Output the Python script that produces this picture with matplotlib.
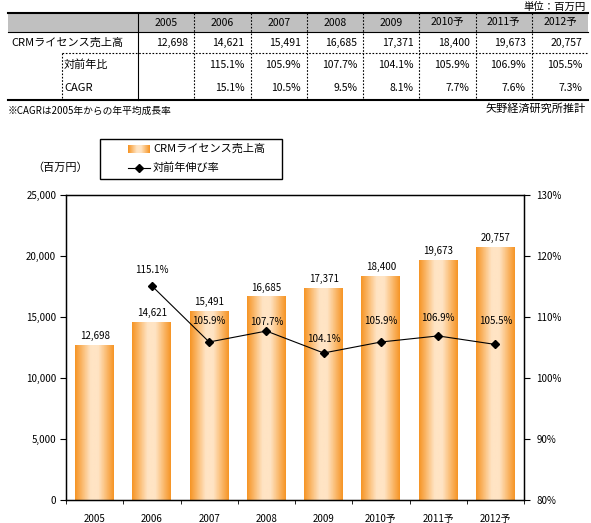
"""
CRM license sales chart: table on top, bar + growth-rate line below.
Saves out.png (591x523).
"""
import matplotlib
matplotlib.use('Agg')
import matplotlib.pyplot as plt
import numpy as np
from matplotlib.colors import LinearSegmentedColormap
from matplotlib.patches import Rectangle
from matplotlib.ticker import FuncFormatter, MultipleLocator

plt.rcParams['font.family'] = ['Noto Sans CJK JP', 'DejaVu Sans']

YEARS = ['2005', '2006', '2007', '2008', '2009', '2010予', '2011予', '2012予']
SALES = [12698, 14621, 15491, 16685, 17371, 18400, 19673, 20757]
YOY = [None, 115.1, 105.9, 107.7, 104.1, 105.9, 106.9, 105.5]
CAGR = [None, 15.1, 10.5, 9.5, 8.1, 7.7, 7.6, 7.3]

ROW_SALES = 'CRMライセンス売上高'
ROW_YOY = '対前年比'
ROW_CAGR = 'CAGR'
LEGEND_BAR = 'CRMライセンス売上高'
LEGEND_LINE = '対前年伸び率'
UNIT = '単位：百万円'
NOTE = '※CAGRは2005年からの年平均成長率'
SOURCE = '矢野経済研究所推計'
Y_UNIT = '（百万円）'

# label offsets above the markers (px), as placed in the original
PCT_OFFSETS = [0, 16, 21, 9, 14, 21, 18, 23]

W, H = 591, 523
EDGE = '#F69526'
CENTER = '#FFE4C4'
bar_cmap = LinearSegmentedColormap.from_list(
    'bar', [EDGE, '#FBBD75', CENTER, CENTER, '#FBBD75', EDGE])

fig = plt.figure(figsize=(W / 100, H / 100), dpi=100)


def px_box(x0, y0, x1, y1):
    return [x0 / W, 1 - y1 / H, (x1 - x0) / W, (y1 - y0) / H]


# ---- chart ----
ax = fig.add_axes(px_box(66, 195, 524, 500))
x = np.arange(len(YEARS))
bars = ax.bar(x, SALES, width=0.68, facecolor='none', edgecolor='none', zorder=2)
grad = np.linspace(0, 1, 64).reshape(1, -1)
for bar in bars:
    bx, bw, bh = bar.get_x(), bar.get_width(), bar.get_height()
    im = ax.imshow(grad, extent=(bx, bx + bw, 0, bh), aspect='auto',
                   cmap=bar_cmap, zorder=2, interpolation='bilinear')
    im.set_clip_path(bar)
    ax.text(bx + bw / 2, bh + 320, f'{bh:,.0f}', ha='center', va='bottom',
            fontsize=7)

ax.set_xlim(-0.5, len(YEARS) - 0.5)
ax.set_ylim(0, 25000)
ax.set_aspect('auto')
ax.yaxis.set_major_locator(MultipleLocator(5000))
ax.yaxis.set_major_formatter(FuncFormatter(lambda v, p: f'{v:,.0f}'))
ax.set_xticks(x)
ax.set_xticklabels(YEARS)
ax.set_xticks(np.arange(len(YEARS) + 1) - 0.5, minor=True)
ax.tick_params(axis='x', which='major', length=0, pad=10, labelsize=7)
ax.tick_params(axis='x', which='minor', length=3, direction='out')
ax.tick_params(axis='y', length=4, direction='out', labelsize=7, pad=3)
for s in ax.spines.values():
    s.set_linewidth(1)

ax2 = ax.twinx()
xs = [i for i, v in enumerate(YOY) if v is not None]
ys = [v for v in YOY if v is not None]
ax2.plot(xs, ys, color='black', lw=0.8, marker='D', markersize=4,
         markerfacecolor='black', zorder=3)
ax2.set_ylim(80, 130)
ax2.yaxis.set_major_locator(MultipleLocator(10))
ax2.yaxis.set_major_formatter(FuncFormatter(lambda v, p: f'{v:.0f}%'))
ax2.tick_params(axis='y', length=4, direction='out', labelsize=7, pad=5)
for i, v in zip(xs, ys):
    ax2.annotate(f'{v:.1f}%', (i, v), xytext=(0, PCT_OFFSETS[i] * 0.72),
                 textcoords='offset points', ha='center', va='center',
                 fontsize=7)

# ---- overlay for table and legend (pixel coords) ----
ov = fig.add_axes([0, 0, 1, 1], facecolor='none')
ov.set_zorder(5)

# table geometry
col_edges = [138 + 56.25 * i for i in range(len(YEARS) + 1)]
left, right = 8, 588
y_top, y_head, y_row1, y_bot = 13, 32, 53, 100

ov.add_patch(Rectangle((left, y_top), right - left, y_head - y_top,
                       facecolor='#C0C0C0', edgecolor='none'))
ov.plot([left, right], [y_top, y_top], color='black', lw=1.5)
ov.plot([left, right], [y_bot, y_bot], color='black', lw=1.5)
ov.plot([left, right], [y_head, y_head], color='black', lw=0.8)
ov.plot([62, right], [y_row1, y_row1], color='black', lw=0.8, ls=(0, (1.5, 1.5)))
ov.plot([62, 62], [y_row1, y_bot], color='black', lw=0.8, ls=(0, (1.5, 1.5)))
ov.plot([col_edges[0]] * 2, [y_top, y_bot], color='black', lw=0.8)
for ce in col_edges[1:-1]:
    ov.plot([ce, ce], [y_top, y_bot], color='black', lw=0.8, ls=(0, (1.5, 1.5)))

for i, yr in enumerate(YEARS):
    cx = (col_edges[i] + col_edges[i + 1]) / 2
    rx = col_edges[i + 1] - 6
    ov.text(cx, 22.5, yr, ha='center', va='center', fontsize=7.5)
    ov.text(rx, 43, f'{SALES[i]:,}', ha='right', va='center', fontsize=7.5)
    if YOY[i] is not None:
        ov.text(rx, 65, f'{YOY[i]:.1f}%', ha='right', va='center', fontsize=7.5)
    if CAGR[i] is not None:
        ov.text(rx, 88, f'{CAGR[i]:.1f}%', ha='right', va='center', fontsize=7.5)

ov.text(11, 43, ROW_SALES, ha='left', va='center', fontsize=8)
ov.text(64, 65, ROW_YOY, ha='left', va='center', fontsize=8)
ov.text(64, 88, ROW_CAGR, ha='left', va='center', fontsize=8)
ov.text(586, 6.5, UNIT, ha='right', va='center', fontsize=7.5)
ov.text(8, 111, NOTE, ha='left', va='center', fontsize=7)
ov.text(586, 109, SOURCE, ha='right', va='center', fontsize=8)

# legend
ov.add_patch(Rectangle((100, 139), 182, 40, facecolor='white',
                       edgecolor='black', lw=1))
lg = ov.imshow(np.linspace(0, 0.5, 32).reshape(1, -1), cmap=bar_cmap,
               extent=(128, 150, 153, 145), aspect='auto', zorder=3)
ov.plot([128, 150], [168, 168], color='black', lw=0.8)
ov.plot([139], [168], marker='D', markersize=4, color='black')
ov.text(153, 149, LEGEND_BAR, ha='left', va='center', fontsize=8)
ov.text(153, 168, LEGEND_LINE, ha='left', va='center', fontsize=8)
ov.text(60, 168, Y_UNIT, ha='center', va='center', fontsize=8)

ov.set_xlim(0, W)
ov.set_ylim(H, 0)
ov.set_aspect('auto')
ov.axis('off')

fig.savefig('out.png', dpi=100)
